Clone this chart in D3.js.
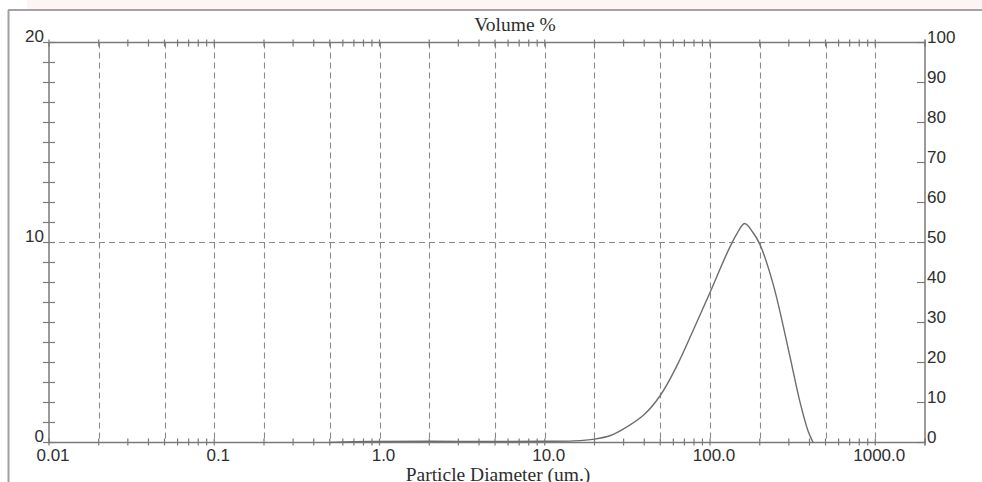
<!DOCTYPE html>
<html>
<head>
<meta charset="utf-8">
<script src="https://cdn.jsdelivr.net/npm/d3@7"></script>
<style>
  html, body { margin: 0; padding: 0; background: #fff; }
  svg { display: block; }
</style>
</head>
<body>
<svg id="chart" width="982" height="482"></svg>
<script>
// ---- Data ----
const sizes  = [0.5, 0.6, 1, 2, 5, 10, 15, 20, 25, 30, 40, 50, 63, 79, 100, 126, 145, 162, 182, 200, 241, 304, 349, 392, 421];
const volume = [0, 0.03, 0.05, 0.06, 0.05, 0.06, 0.08, 0.17, 0.35, 0.68, 1.4, 2.35, 3.83, 5.6, 7.5, 9.42, 10.42, 10.95, 10.5, 9.92, 7.92, 4.33, 2.08, 0.58, 0];

const xTickValues = [0.01, 0.1, 1, 10, 100, 1000];
const xTickLabels = ["0.01", "0.1", "1.0", "10.0", "100.0", "1000.0"];
const xGridValues = [0.02, 0.05, 0.1, 0.2, 0.5, 1, 2, 5, 10, 20, 50, 100, 200, 500, 1000];
const leftTickLabels = [0, 10, 20];
const rightTickLabels = [0, 10, 20, 30, 40, 50, 60, 70, 80, 90, 100];
const title = "Volume %";
const xTitle = "Particle Diameter (um.)";

// ---- Layout ----
const svg = d3.select("#chart");
const L = 49, R = 925, T = 42.5, B = 442.5;

const x = d3.scaleLog().domain([0.01, 2000]).range([L, R]);
const yL = d3.scaleLinear().domain([0, 20]).range([B, T]);
const yR = d3.scaleLinear().domain([0, 100]).range([B, T]);

const axisColor = "#7a7a7a";
const textColor = "#2e2e2e";

// Outer frame
svg.append("rect").attr("x", 27).attr("y", 0).attr("width", 955).attr("height", 9).attr("fill", "#fdf5f3");
svg.append("line").attr("x1", 8).attr("x2", 982).attr("y1", 10).attr("y2", 10)
  .attr("stroke", "#a79fab").attr("stroke-width", 2);
svg.append("line").attr("x1", 8.5).attr("x2", 8.5).attr("y1", 10).attr("y2", 482)
  .attr("stroke", "#a0a0a0").attr("stroke-width", 2);

// Grid
const grid = svg.append("g").attr("stroke", "#8a8a8a").attr("stroke-width", 1.1).attr("stroke-dasharray", "6,4");
grid.selectAll("line.v").data(xGridValues).join("line")
  .attr("class", "v")
  .attr("x1", d => Math.round(x(d)) + 0.5).attr("x2", d => Math.round(x(d)) + 0.5)
  .attr("y1", T).attr("y2", B);
grid.append("line").attr("x1", L).attr("x2", R).attr("y1", yL(10)).attr("y2", yL(10));

// Minor ticks on top/bottom
const minor = [];
for (let e = -2; e <= 3; e++) for (let m = 1; m <= 9; m++) {
  const v = m * Math.pow(10, e);
  if (v <= 2000) minor.push(v);
}
minor.push(2000);
const tk = svg.append("g").attr("stroke", axisColor).attr("stroke-width", 1.2);
tk.selectAll("line.tt").data(minor).join("line").attr("class", "tt")
  .attr("x1", d => x(d)).attr("x2", d => x(d)).attr("y1", T - 3).attr("y2", T + 4);
tk.selectAll("line.bt").data(minor).join("line").attr("class", "bt")
  .attr("x1", d => x(d)).attr("x2", d => x(d)).attr("y1", B - 4).attr("y2", B + 3);

// Left ticks (every 1 unit)
tk.selectAll("line.lt").data(d3.range(0, 21)).join("line").attr("class", "lt")
  .attr("x1", L - 6).attr("x2", L + 6).attr("y1", d => yL(d)).attr("y2", d => yL(d));
// Right ticks (every 10)
tk.selectAll("line.rt").data(rightTickLabels).join("line").attr("class", "rt")
  .attr("x1", R - 8).attr("x2", R).attr("y1", d => yR(d)).attr("y2", d => yR(d));

// Frame of plot
svg.append("rect").attr("x", L).attr("y", T).attr("width", R - L).attr("height", B - T)
  .attr("fill", "none").attr("stroke", axisColor).attr("stroke-width", 1.5);

// Curve
const pts = sizes.map((s, i) => [x(s), yL(volume[i])]);
svg.append("path")
  .attr("d", d3.line().curve(d3.curveCatmullRom.alpha(0.5))(pts))
  .attr("fill", "none").attr("stroke", "#6d6d6d").attr("stroke-width", 1.4);

// Labels
const lab = svg.append("g").attr("font-family", "'Liberation Sans', Arial, sans-serif")
  .attr("font-size", 17).attr("fill", textColor);
lab.selectAll("text.l").data(leftTickLabels).join("text").attr("class", "l")
  .attr("x", 44).attr("y", d => yL(d) - 0.5).attr("text-anchor", "end").text(d => d);
lab.selectAll("text.r").data(rightTickLabels).join("text").attr("class", "r")
  .attr("x", 927).attr("y", d => yR(d) + 0.5).attr("text-anchor", "start").text(d => d);
lab.selectAll("text.b").data(xTickValues).join("text").attr("class", "b")
  .attr("x", d => x(d) + 4).attr("y", 461).attr("text-anchor", "middle")
  .text((d, i) => xTickLabels[i]);

const serif = "'Liberation Serif', 'Times New Roman', serif";
svg.append("text").attr("x", 515).attr("y", 31).attr("text-anchor", "middle")
  .attr("font-family", serif).attr("font-size", 19.5).attr("fill", textColor).text(title);
svg.append("text").attr("x", 498).attr("y", 481).attr("text-anchor", "middle")
  .attr("font-family", serif).attr("font-size", 19.5).attr("fill", textColor).text(xTitle);
</script>
</body>
</html>
